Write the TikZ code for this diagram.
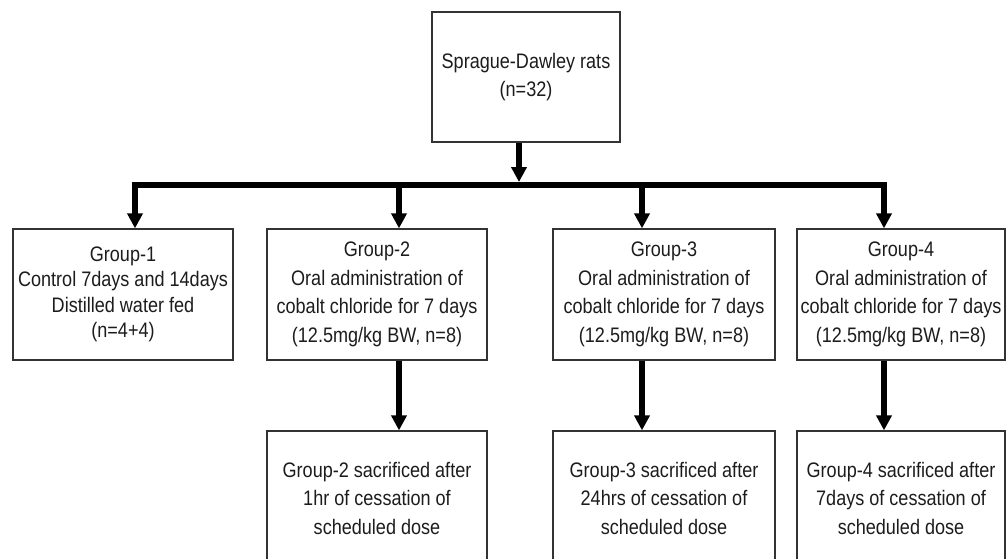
\documentclass[tikz,border=0pt]{standalone}
\usepackage{fontspec}
\setmainfont[FakeStretch=0.86]{Liberation Sans}
\usepackage{tikz}
\usetikzlibrary{arrows.meta}

\definecolor{boxline}{HTML}{333333}
\definecolor{txt}{HTML}{1C1C1C}

\tikzset{
    box/.style={draw=boxline, line width=1.3pt, inner sep=0pt, align=center,
        text=txt, font=\fontsize{21}{28.5}\selectfont},
    arr/.style={line width=5.6pt, -{Triangle[width=15pt,length=15pt]}},
    bar/.style={line width=6pt, line cap=rect}
}

\begin{document}
\begin{tikzpicture}[x=1pt, y=-1pt]

    \useasboundingbox (0,0) rectangle (1008,558);
    \clip (0,0) rectangle (1008,558);

    % Source box
    \node[box, minimum width=188pt, minimum height=130pt] (rats) at (526,77)
        {Sprague-Dawley rats\\(n=32)};

    % Groups
    \node[box, minimum width=220pt, minimum height=131pt,
        font=\fontsize{21}{25.5}\selectfont] (g1) at (123,294.5)
        {Group-1\\Control 7days and 14days\\Distilled water fed\\(n=4+4)};
    \node[box, minimum width=220pt, minimum height=131pt] (g2) at (377,294.5)
        {Group-2\\Oral administration of\\cobalt chloride for 7 days\\(12.5mg/kg BW, n=8)};
    \node[box, minimum width=222pt, minimum height=131pt] (g3) at (664,294.5)
        {Group-3\\Oral administration of\\cobalt chloride for 7 days\\(12.5mg/kg BW, n=8)};
    \node[box, minimum width=208pt, minimum height=131pt] (g4) at (901,294.5)
        {Group-4\\Oral administration of\\cobalt chloride for 7 days\\(12.5mg/kg BW, n=8)};

    % Sacrifice boxes (run off the bottom)
    \node[box, minimum width=220pt, minimum height=134pt] (s2) at (377,498)
        {Group-2 sacrificed after\\1hr of cessation of\\scheduled dose};
    \node[box, minimum width=222pt, minimum height=134pt] (s3) at (664,498)
        {Group-3 sacrificed after\\24hrs of cessation of\\scheduled dose};
    \node[box, minimum width=208pt, minimum height=134pt] (s4) at (901,498)
        {Group-4 sacrificed after\\7days of cessation of\\scheduled dose};

    % Distribution bar
    \coordinate (hub) at (519,182);
    \coordinate (d1) at (135,185);
    \coordinate (d2) at (399,185);
    \coordinate (d3) at (642,185);
    \coordinate (d4) at (884,185);
    \draw[bar] (d1) -- (d4);
    \draw[arr] (rats.south -| hub) -- (hub);

    % Branches
    \foreach \i in {1,2,3,4} {
        \draw[arr] (d\i) -- (d\i |- g\i.north);
    }
    \foreach \i in {2,3,4} {
        \draw[arr] (d\i |- g\i.south) -- (d\i |- s\i.north);
    }

\end{tikzpicture}
\end{document}
